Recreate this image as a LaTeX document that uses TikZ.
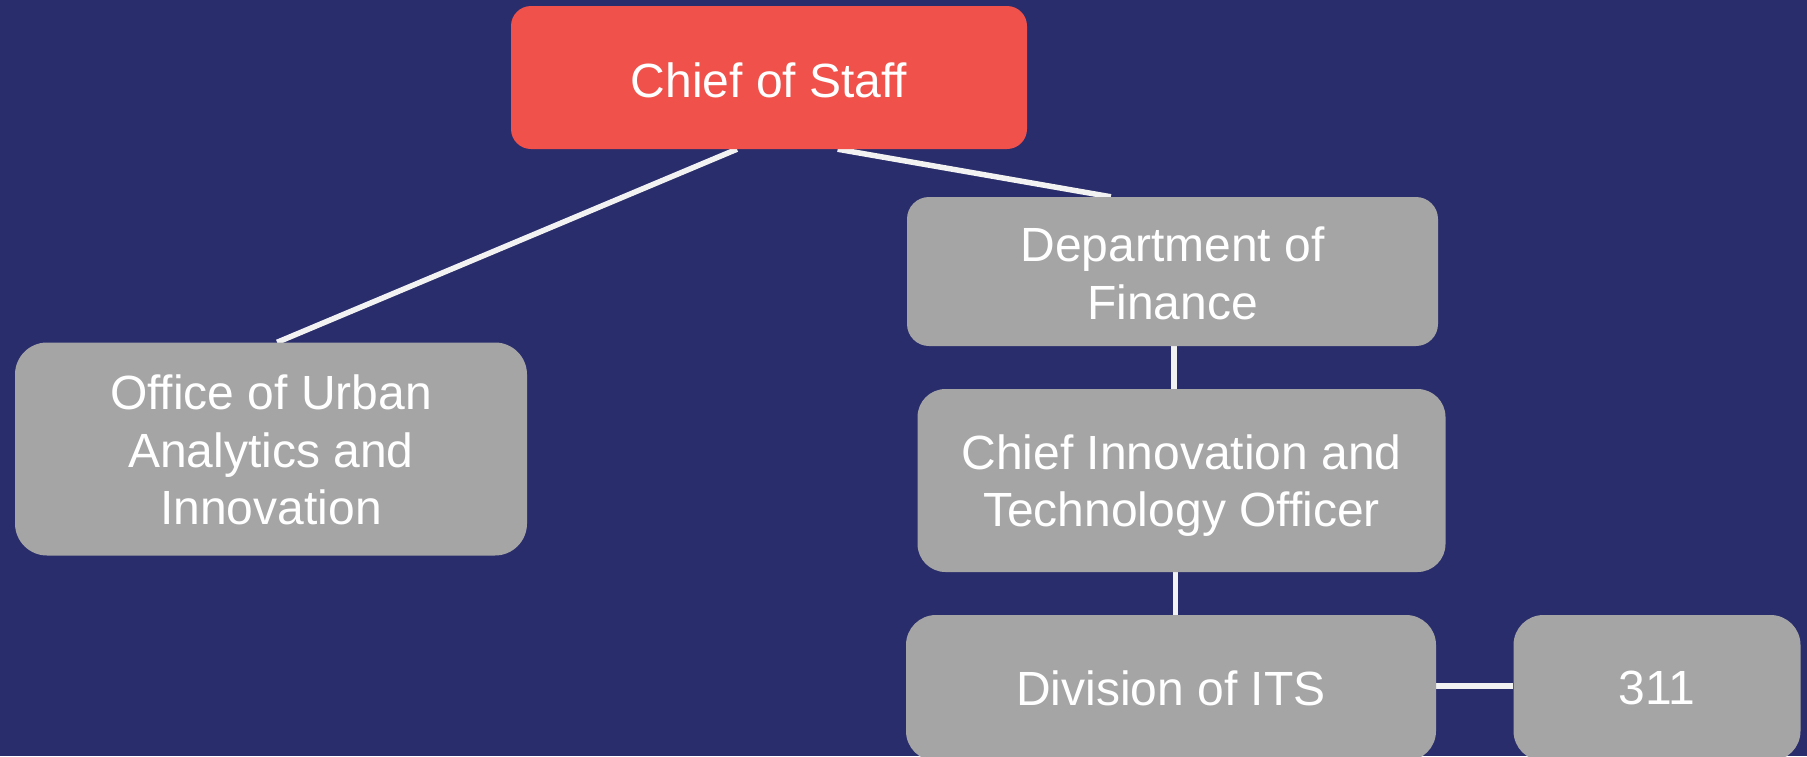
\documentclass[tikz,border=0pt]{standalone}
\usepackage{fontspec}
\setmainfont{Liberation Sans}
\usetikzlibrary{calc}
\definecolor{bgblue}{HTML}{292D6B}
\definecolor{redbox}{HTML}{F0514A}
\definecolor{graybox}{HTML}{A5A5A5}
\definecolor{linew}{HTML}{F2F2F2}
\pgfdeclarelayer{bg}
\pgfsetlayers{bg,main}
\begin{document}
\begin{tikzpicture}[x=1pt,y=-1pt,
  box/.style={rectangle, inner sep=0pt},
  redb/.style={box, fill=redbox},
  grayb/.style={box, fill=graybox},
  txt/.style={inner sep=0pt, align=center, text=white,
    font=\fontsize{48}{57.6}\selectfont},
  conn/.style={draw=linew, line width=5.5pt}]
\useasboundingbox (0,0) rectangle (1807,756);
\node[redb, rounded corners=20pt, minimum width=516pt, minimum height=143pt] (chief) at (769,77.5) {};
\node[grayb, rounded corners=32pt, minimum width=512pt, minimum height=213pt] (office) at (271,449) {};
\node[grayb, rounded corners=22pt, minimum width=531pt, minimum height=149pt] (dept) at (1172.5,271.5) {};
\node[grayb, rounded corners=28pt, minimum width=528pt, minimum height=183pt] (cio) at (1181.5,480.5) {};
\node[grayb, rounded corners=30pt, minimum width=530pt, minimum height=146pt] (div) at (1171,688) {};
\node[grayb, rounded corners=30pt, minimum width=287pt, minimum height=146pt] (t311) at (1657,688) {};
\node[txt] (chiefT) at ([yshift=-3pt]chief.center) {Chief of Staff};
\node[txt] (officeT) at ([yshift=-1pt]office.center) {Office of Urban\\Analytics and\\Innovation};
\node[txt] (deptT) at ([yshift=-2pt]dept.center) {Department of\\Finance};
\node[txt] (cioT) at ([yshift=-5pt]cio.center) {Chief Innovation and\\Technology Officer};
\node[txt] (divT) at (div.center) {Division of ITS};
\node[txt] (t311T) at (t311.center) {311};
\begin{pgfonlayer}{bg}
\fill[bgblue] (0,0) rectangle (1807,756);
\draw[conn] ($(chief.south west)!0.438!(chief.south east)$) -- ($(office.north west)!0.512!(office.north east)$);
\draw[conn] ($(chief.south west)!0.633!(chief.south east)$) -- ($(dept.north west)!0.384!(dept.north east)$);
\draw[conn] ([xshift=1.5pt]dept.south) -- ([xshift=1.5pt]dept.south |- cio.north);
\draw[conn] ([xshift=4.5pt]div.north) -- ([xshift=4.5pt]div.north |- cio.south);
\draw[conn] ([yshift=2pt]div.east) -- ([yshift=2pt]div.east -| t311.west);
\end{pgfonlayer}
\end{tikzpicture}
\end{document}
